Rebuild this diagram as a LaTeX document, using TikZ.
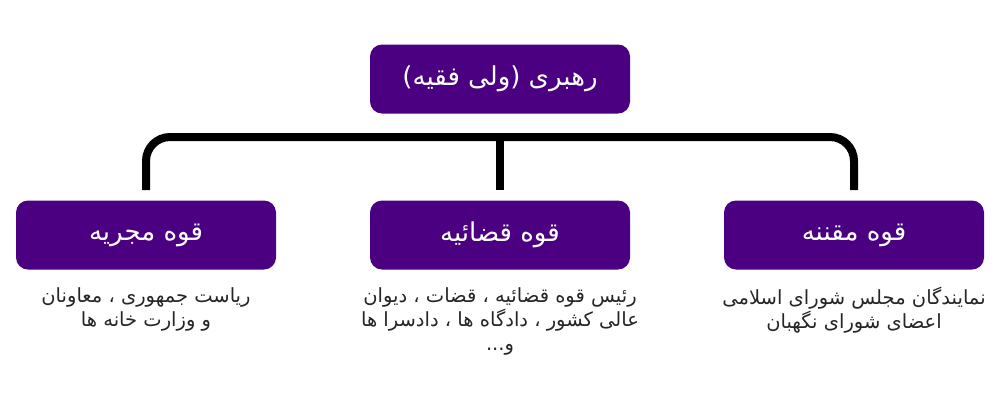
\documentclass[tikz,border=0pt]{standalone}
\usepackage{fontspec}
\TeXXeTstate=1
\newfontfamily\arabicfont[Script=Arabic]{DejaVu Sans}
\definecolor{boxpurple}{HTML}{4B0082}
\definecolor{bodytext}{HTML}{262626}
\begin{document}
\begin{tikzpicture}[x=1pt,y=-1pt,
  box/.style={fill=boxpurple, rounded corners=12pt, minimum width=260pt, minimum height=69pt, inner sep=0pt, text=white, font=\arabicfont\fontsize{26}{30}\selectfont},
  body/.style={text=bodytext, align=center, font=\arabicfont\fontsize{19.5}{24}\selectfont, inner sep=0pt},
  conn/.style={line width=8pt, rounded corners=24pt}]
\useasboundingbox (0,0) rectangle (1000,400);
\node[box] (top) at (500,79) {\beginR رهبری (ولی فقیه)\endR};
\node[box] (exec) at (146,235) {\beginR قوه مجریه\endR};
\node[box] (jud) at (500,235) {\beginR قوه قضائیه\endR};
\node[box] (leg) at (854,235) {\beginR قوه مقننه\endR};
\node[body] (exectext) at (146,309) {\beginR ریاست جمهوری ، معاونان\endR\\ \beginR و وزارت خانه ها\endR};
\node[body] (judtext) at (500,321) {\beginR رئیس قوه قضائیه ، قضات ، دیوان\endR\\ \beginR عالی کشور ، دادگاه ها ، دادسرا ها\endR\\ \beginR و...\endR};
\node[body] (legtext) at (854,310) {\beginR نمایندگان مجلس شورای اسلامی\endR\\ \beginR اعضای شورای نگهبان\endR};
\coordinate (lend) at (146,190);
\coordinate (rend) at (854,190);
\coordinate (mtop) at (500,137);
\coordinate (mend) at (500,190);
\draw[conn] (lend) |- (mtop) -| (rend);
\draw[line width=8pt] (mtop) -- (mend);
\end{tikzpicture}
\end{document}
